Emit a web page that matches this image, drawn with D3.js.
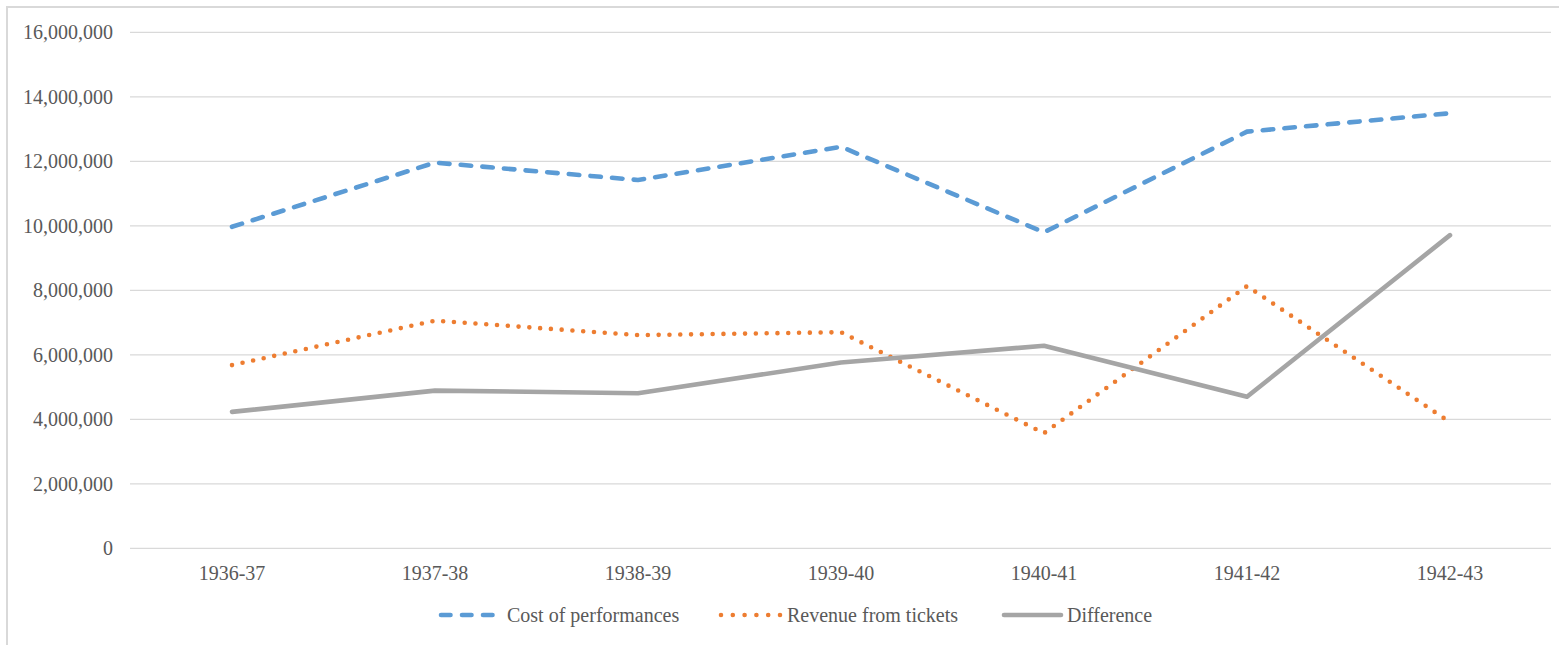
<!DOCTYPE html>
<html>
<head>
<meta charset="utf-8">
<script src="https://cdn.jsdelivr.net/npm/d3@7"></script>
<style>
  html, body { margin: 0; padding: 0; background: #fff; }
  svg { display: block; }
  text { font-family: "Liberation Serif", "Times New Roman", serif; fill: #595959; }
</style>
</head>
<body>
<svg id="chart" width="1559" height="645"></svg>
<script>
const categories = ["1936-37", "1937-38", "1938-39", "1939-40", "1940-41", "1941-42", "1942-43"];
const costOfPerformances = [9970000, 11960000, 11420000, 12450000, 9800000, 12920000, 13490000];
const revenueFromTickets = [5680000, 7060000, 6610000, 6700000, 3570000, 8130000, 3910000];
const difference = [4230000, 4890000, 4810000, 5760000, 6280000, 4700000, 9710000];
const yTicks = [0, 2000000, 4000000, 6000000, 8000000, 10000000, 12000000, 14000000, 16000000];
const seriesNames = ["Cost of performances", "Revenue from tickets", "Difference"];

const svg = d3.select("#chart");

// outer border
svg.append("rect")
  .attr("x", 7).attr("y", 7).attr("width", 1570).attr("height", 660)
  .attr("fill", "none").attr("stroke", "#d9d9d9").attr("stroke-width", 2);

const x = d3.scalePoint().domain(categories).range([130.5, 1551.5]).padding(0.5);
const y = d3.scaleLinear().domain([0, 16000000]).range([548.3, 32.3]);
const fmt = d3.format(",");

// gridlines
svg.append("g").selectAll("line").data(yTicks).join("line")
  .attr("x1", 130).attr("x2", 1551)
  .attr("y1", d => y(d)).attr("y2", d => y(d))
  .attr("stroke", "#d9d9d9").attr("stroke-width", 1.3);

// y tick labels
svg.append("g").selectAll("text").data(yTicks).join("text")
  .attr("x", 113).attr("y", d => y(d) + 7)
  .attr("text-anchor", "end")
  .attr("font-size", 20)
  .text(d => fmt(d));

// x category labels
svg.append("g").selectAll("text").data(categories).join("text")
  .attr("x", d => x(d)).attr("y", 580)
  .attr("text-anchor", "middle")
  .attr("font-size", 20)
  .text(d => d);

const styles = [
  { color: "#5b9bd5", dash: "10.5,11.2", width: 4.6 },
  { color: "#ed7d31", dash: "0,10.8", width: 4.6 },
  { color: "#a5a5a5", dash: null, width: 4.6 }
];
const allSeries = [costOfPerformances, revenueFromTickets, difference];

const line = d3.line()
  .x((d, i) => x(categories[i]))
  .y(d => y(d));

// draw in order: difference, revenue, cost (cost on top like Excel series order)
allSeries.forEach((vals, si) => {
  const s = styles[si];
  svg.append("path")
    .datum(vals)
    .attr("d", line)
    .attr("fill", "none")
    .attr("stroke", s.color)
    .attr("stroke-width", s.width)
    .attr("stroke-linecap", "round")
    .attr("stroke-linejoin", "round")
    .attr("stroke-dasharray", s.dash);
});

// legend
const legendItems = [
  { sx: 441, ex: 498, tx: 507, dash: "9.5,11.5" },
  { sx: 721, ex: 781, tx: 787, dash: "0,11.8" },
  { sx: 1004, ex: 1061, tx: 1067, dash: null }
];
const lg = svg.append("g");
legendItems.forEach((it, i) => {
  const s = styles[i];
  lg.append("line")
    .attr("x1", it.sx).attr("x2", it.ex)
    .attr("y1", 615).attr("y2", 615)
    .attr("stroke", s.color)
    .attr("stroke-width", s.width)
    .attr("stroke-linecap", "round")
    .attr("stroke-dasharray", it.dash);
  lg.append("text")
    .attr("x", it.tx).attr("y", 622)
    .attr("font-size", 20)
    .text(seriesNames[i]);
});
</script>
</body>
</html>
